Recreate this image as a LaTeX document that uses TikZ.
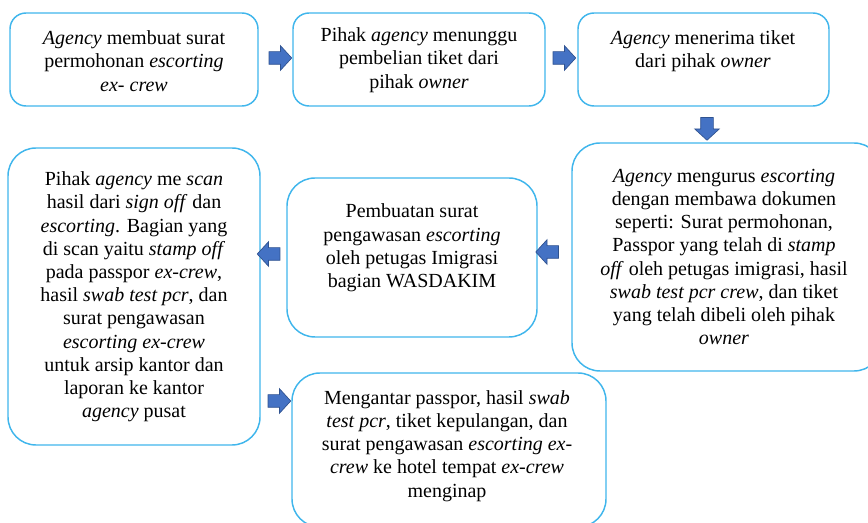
\documentclass[tikz,border=0pt]{standalone}
\usepackage{fontspec}
\setmainfont{Liberation Serif}
\usetikzlibrary{shapes.arrows}
\definecolor{boxblue}{RGB}{64,182,236}
\definecolor{arrfill}{RGB}{68,114,196}
\definecolor{arrline}{RGB}{47,82,143}
\begin{document}
\begin{tikzpicture}[x=0.75pt,y=-0.75pt,
  box/.style={draw=boxblue, line width=1.1pt, fill=white, inner sep=0pt},
  smallbox/.style={box, rounded corners=12pt, minimum height=69.75pt},
  bigbox/.style={box, rounded corners=21pt},
  txt/.style={align=center, font=\fontsize{15}{17.4}\selectfont, inner sep=0pt},
  barrow/.style={single arrow, draw=arrline, fill=arrfill, line width=0.5pt,
    inner sep=4.5pt, single arrow head extend=4.5pt, minimum height=17pt,
    single arrow tip angle=95},
]
\useasboundingbox (0,0) rectangle (868,523);
% boxes
\node[smallbox, minimum width=186pt] (b1) at (134,59.5) {};
\node[smallbox, minimum width=189pt] (b2) at (419,59.5) {};
\node[smallbox, minimum width=188.25pt] (b3) at (703.5,59.5) {};
\node[bigbox, minimum width=232.5pt, minimum height=171pt] (b4) at (727,257) {};
\node[bigbox, minimum width=187.5pt, minimum height=119.25pt] (b5) at (412,257.5) {};
\node[bigbox, minimum width=189pt, minimum height=222.75pt] (b6) at (134,296.5) {};
\node[bigbox, minimum width=235.5pt, minimum height=115.5pt] (b7) at (449,450) {};
% texts
\node[txt] (t1) at (134,61) {\textit{Agency} membuat surat\\ permohonan \textit{escorting}\\ \textit{ex- crew}};
\node[txt] (t2) at (419,60) {Pihak \textit{agency} menunggu\\ pembelian tiket dari\\ pihak \textit{owner}};
\node[txt] (t3) at (703,51) {\textit{Agency} menerima tiket\\ dari pihak \textit{owner}};
\node[txt] (t4) at (724,257) {\textit{Agency} mengurus \textit{escorting}\\ dengan membawa dokumen\\ seperti: Surat permohonan,\\ Passpor yang telah di \textit{stamp}\\ \textit{off} oleh petugas imigrasi, hasil\\ \textit{swab test pcr crew}, dan tiket\\ yang telah dibeli oleh pihak\\ \textit{owner}};
\node[txt] (t5) at (412,248) {Pembuatan surat\\ pengawasan \textit{escorting}\\ oleh petugas Imigrasi\\ bagian WASDAKIM};
\node[txt] (t6) at (134,297) {Pihak \textit{agency} me \textit{scan}\\ hasil dari \textit{sign off} dan\\ \textit{escorting}. Bagian yang\\ di scan yaitu \textit{stamp off}\\ pada passpor \textit{ex-crew},\\ hasil \textit{swab test pcr}, dan\\ surat pengawasan\\ \textit{escorting ex-crew}\\ untuk arsip kantor dan\\ laporan ke kantor\\ \textit{agency} pusat};
\node[txt] (t7) at (447,446) {Mengantar passpor, hasil \textit{swab}\\ \textit{test pcr}, tiket kepulangan, dan\\ surat pengawasan \textit{escorting ex-}\\ \textit{crew} ke hotel tempat \textit{ex-crew}\\ menginap};
% block arrows
\node[barrow] (a12) at (277.5,58) {};
\node[barrow] (a23) at (561.5,58) {};
\node[barrow, shape border rotate=270] (a34) at (707,126) {};
\node[barrow, shape border rotate=180] (a45) at (550,252) {};
\node[barrow, shape border rotate=180] (a56) at (271.5,254) {};
\node[barrow] (a67) at (276.5,401) {};
\end{tikzpicture}
\end{document}
